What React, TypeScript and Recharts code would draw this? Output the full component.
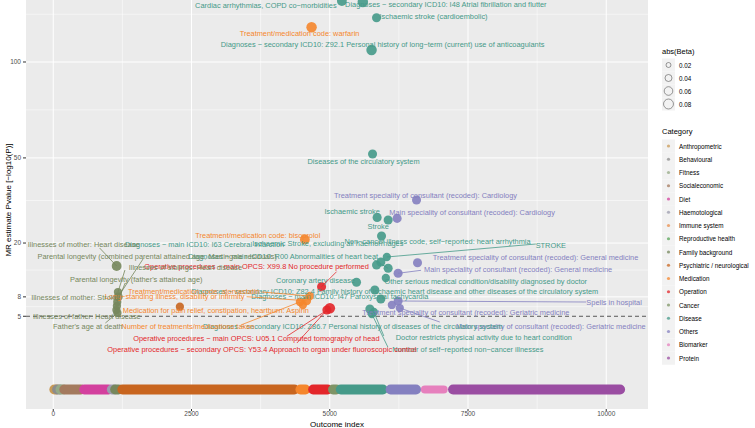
import React from "react";
import {
  ScatterChart,
  Scatter,
  XAxis,
  YAxis,
  CartesianGrid,
  ReferenceLine,
} from "recharts";

const FONT = "'Liberation Sans', Arial, Helvetica, sans-serif";

const categories = [
  "Anthropometric",
  "Behavioural",
  "Fitness",
  "Socialeconomic",
  "Diet",
  "Haemotological",
  "Immune system",
  "Reproductive health",
  "Family background",
  "Psychiatric / neurological",
  "Medication",
  "Operation",
  "Cancer",
  "Disease",
  "Others",
  "Biomarker",
  "Protein",
];

const categoryColors: Record<string, string> = {
  Anthropometric: "#C99A55",
  Behavioural: "#8C8C8C",
  Fitness: "#96AA86",
  Socialeconomic: "#A47A5E",
  Diet: "#D3409E",
  Haemotological: "#9C9CAE",
  "Immune system": "#E98F4C",
  "Reproductive health": "#5AA65A",
  "Family background": "#76875C",
  "Psychiatric / neurological": "#C8651F",
  Medication: "#F5862C",
  Operation: "#E3262A",
  Cancer: "#7E9466",
  Disease: "#459A89",
  Others: "#8480C0",
  Biomarker: "#E680BD",
  Protein: "#9A4DA2",
};

// the non-significant outcomes, drawn as blocks along the index axis
const stripCategory = [
  "Anthropometric", "Behavioural", "Fitness", "Socialeconomic", "Diet",
  "Haemotological", "Family background", "Psychiatric / neurological",
  "Medication", "Operation", "Cancer", "Disease", "Others", "Biomarker", "Protein",
];
const stripFrom = [20, 70, 130, 200, 560, 1060, 1120, 1250, 4470, 4700, 5060, 5200, 6100, 6720, 7230];
const stripTo = [60, 120, 180, 500, 1000, 1100, 1180, 4360, 4560, 4960, 5120, 5960, 6560, 7060, 10250];

// labelled outcomes
const hitNames = [
  "Cardiac arrhythmias, COPD co−morbidities",
  "Diagnoses − secondary ICD10: I48 Atrial fibrillation and flutter",
  "Ischaemic stroke (cardioembolic)",
  "Treatment/medication code: warfarin",
  "Diagnoses − secondary ICD10: Z92.1 Personal history of long−term (current) use of anticoagulants",
  "Diseases of the circulatory system",
  "Treatment speciality of consultant (recoded): Cardiology",
  "Ischaemic stroke",
  "Main speciality of consultant (recoded): Cardiology",
  "Stroke",
  "Non−cancer illness code, self−reported: heart arrhythmia",
  "Treatment/medication code: bisoprolol",
  "STROKE",
  "Diagnoses − main ICD10: I63 Cerebral infarction",
  "Ischaemic Stroke, excluding all haemorrhages",
  "Diagnoses − main ICD10: R00 Abnormalities of heart beat",
  "Treatment speciality of consultant (recoded): General medicine",
  "Main speciality of consultant (recoded): General medicine",
  "Other serious medical condition/disability diagnosed by doctor",
  "Coronary artery disease",
  "Diagnoses − secondary ICD10: Z82.4 Family history of ischaemic heart disease and other diseases of the circulatory system",
  "Diagnoses − main ICD10: I47 Paroxysmal tachycardia",
  "Spells in hospital",
  "Treatment speciality of consultant (recoded): Geriatric medicine",
  "Main speciality of consultant (recoded): Geriatric medicine",
  "Diagnoses − secondary ICD10: Z86.7 Personal history of diseases of the circulatory system",
  "Doctor restricts physical activity due to heart condition",
  "Number of self−reported non−cancer illnesses",
  "Operative procedures − main OPCS: X99.8 No procedure performed",
  "Operative procedures − main OPCS: U05.1 Computed tomography of head",
  "Operative procedures − secondary OPCS: Y53.4 Approach to organ under fluoroscopic control",
  "Long−standing illness, disability or infirmity",
  "Medication for pain relief, constipation, heartburn: Aspirin",
  "Number of treatments/medications taken",
  "Treatment/medication code: atorvastatin",
  "Illnesses of mother: Heart disease",
  "Parental longevity (combined parental attained age, Martingale residuals)",
  "Parental longevity (father's attained age)",
  "Illnesses of mother: Stroke",
  "Illnesses of father: Heart disease",
  "Father's age at death",
  "Illnesses of siblings: Heart disease",
  "",
];
const hitCategory = [
  "Disease", "Disease", "Disease", "Medication", "Disease", "Disease", "Others",
  "Disease", "Others", "Disease", "Disease", "Medication", "Disease", "Disease",
  "Disease", "Disease", "Others", "Others", "Disease", "Disease", "Disease",
  "Disease", "Others", "Others", "Others", "Disease", "Disease", "Disease",
  "Operation", "Operation", "Operation", "Medication", "Medication", "Medication",
  "Medication", "Family background", "Family background", "Family background",
  "Family background", "Family background", "Family background", "Family background",
  "Psychiatric / neurological",
];
const hitIndex = [
  5219, 5598, 5846, 4671, 5756, 5774, 6569, 5857, 6218, 6056, 5936, 4550, 6032,
  5846, 5924, 6056, 6587, 6236, 6014, 5484, 5815, 5924, 6236, 6123, 6267, 5725,
  5797, 5761, 4852, 5002, 4948, 4581, 4514, 4460, 4640, 1146, 1175, 1157, 1151,
  1142, 1160, 1170, 2290,
];
const hitLogP = [
  140.7, 140.0, 128.9, 122.3, 107.5, 51.7, 33.5, 27.6, 27.3, 26.8, 21.97, 21.0, 16.37,
  14.45, 15.16, 13.7, 14.99, 12.59, 11.59, 10.71, 9.23, 7.64, 7.3, 6.66, 6.19, 6.04,
  5.6, 5.31, 9.85, 6.15, 5.89, 7.35, 6.66, 7.14, 8.15, 14.22, 8.03, 7.14, 6.5,
  5.89, 5.46, 8.86, 6.39,
];
const hitBeta = [
  0.07, 0.08, 0.06, 0.08, 0.08, 0.06, 0.06, 0.06, 0.06, 0.06, 0.06, 0.07, 0.05,
  0.06, 0.06, 0.06, 0.06, 0.06, 0.05, 0.06, 0.06, 0.06, 0.06, 0.05, 0.05, 0.06,
  0.05, 0.05, 0.06, 0.08, 0.06, 0.06, 0.05, 0.05, 0.05, 0.07, 0.06, 0.05, 0.05,
  0.05, 0.05, 0.05, 0.05,
];

// ggrepel style placement: label centre offset from the point, optional segment end
const labelLayout: Record<string, number[]> = {
  [hitNames[0]]: [-76, 4],
  [hitNames[1]]: [83, 3],
  [hitNames[2]]: [57, -1],
  [hitNames[3]]: [-12, 6],
  [hitNames[4]]: [11, -5],
  [hitNames[5]]: [-9, 7],
  [hitNames[6]]: [9, -4],
  [hitNames[7]]: [-25, -6],
  [hitNames[8]]: [75, -6],
  [hitNames[9]]: [-10, 7],
  [hitNames[10]]: [56, 5.5],
  [hitNames[11]]: [-47, -4],
  [hitNames[12]]: [164, -11, 149, -13],
  [hitNames[13]]: [-172, -21],
  [hitNames[14]]: [-53, -18],
  [hitNames[15]]: [-105, -12, -15, -9],
  [hitNames[16]]: [118, -5],
  [hitNames[17]]: [120, -4, 23, -3],
  [hitNames[18]]: [100, 3],
  [hitNames[19]]: [-41, -2],
  [hitNames[20]]: [20, 1],
  [hitNames[21]]: [-41, -2],
  [hitNames[22]]: [216, 1, 188, 1],
  [hitNames[23]]: [74, 8],
  [hitNames[24]]: [151, 18, 40, 14],
  [hitNames[25]]: [-17, 17],
  [hitNames[26]]: [110, 26, 10, 24],
  [hitNames[27]]: [96, 35, 16, 33],
  [hitNames[28]]: [-65, -20, 15, -15],
  [hitNames[29]]: [-73.5, 30, -43, 28],
  [hitNames[30]]: [-65, 39, -30, 33],
  [hitNames[31]]: [-132, -4, -60, -4],
  [hitNames[32]]: [-87, 6],
  [hitNames[33]]: [-112, 25, -59, 23],
  [hitNames[34]]: [-116, -5, -48, -4],
  [hitNames[35]]: [-33, -22, -17, -18],
  [hitNames[36]]: [39, -40, 25, -38],
  [hitNames[37]]: [19, -22, 8, -19],
  [hitNames[38]]: [-42, -9],
  [hitNames[39]]: [-29.5, 6],
  [hitNames[40]]: [-29.5, 14, -12, 10],
  [hitNames[41]]: [67.5, -25, 7, -22],
};

const xTicks = [0, 2500, 5000, 7500, 10000];
const xMinor = [1250, 3750, 6250, 8750];
const yTicks = [5, 8, 20, 50, 100];
const yMinor = [3.76, 6.4, 13.3, 33.3, 72.9, 131.3];
const betaKeys = [0.02, 0.04, 0.06, 0.08];
const threshold = 5;

const hits = hitNames.map((name, i) => ({
  name,
  category: hitCategory[i],
  x: hitIndex[i],
  y: hitLogP[i],
  beta: hitBeta[i],
}));

const radius = (beta: number) => 18.5 * Math.sqrt(beta);

const HitDot = (props: any) => {
  const { cx, cy, payload } = props;
  if (cx == null || cy == null) return null;
  return (
    <circle
      cx={cx}
      cy={cy}
      r={radius(payload.beta)}
      fill={categoryColors[payload.category]}
      fillOpacity={0.9}
    />
  );
};

const HitLabel = (props: any) => {
  const { cx, cy, payload } = props;
  const lay = labelLayout[payload.name];
  if (cx == null || !lay || !payload.name) return null;
  const col = categoryColors[payload.category];
  return (
    <g>
      {lay.length > 2 && (
        <line
          x1={cx}
          y1={cy}
          x2={cx + lay[2]}
          y2={cy + lay[3]}
          stroke={col}
          strokeWidth={0.8}
        />
      )}
      <text
        x={cx + lay[0]}
        y={cy + lay[1]}
        textAnchor="middle"
        dominantBaseline="central"
        fontSize={7.4}
        fontFamily={FONT}
        fill={col}
      >
        {payload.name}
      </text>
    </g>
  );
};

export default function App() {
  return (
    <div
      style={{
        position: "absolute",
        left: 0,
        top: 0,
        width: 755,
        height: 428,
        overflow: "hidden",
        background: "#fff",
      }}
    >
      <div style={{ position: "absolute", left: 0, top: -12 }}>
        <ScatterChart
          width={755}
          height={440}
          margin={{ top: 2, right: 107, bottom: 0, left: 0 }}
        >
          <CartesianGrid
            fill="#EBEBEB"
            stroke="#FFFFFF"
            strokeWidth={0.5}
            horizontalValues={yMinor}
            verticalValues={xMinor}
          />
          <CartesianGrid
            stroke="#FFFFFF"
            strokeWidth={1}
            horizontalValues={yTicks}
            verticalValues={xTicks}
          />
          <XAxis
            type="number"
            dataKey="x"
            domain={[-493, 10755]}
            ticks={xTicks}
            allowDataOverflow
            height={19}
            axisLine={false}
            tickSize={2}
            tickMargin={0}
            tickLine={{ stroke: "#333" }}
            tick={{ fontSize: 6.5, fill: "#4D4D4D", fontFamily: FONT }}
          />
          <YAxis
            type="number"
            dataKey="y"
            scale="sqrt"
            domain={[0, 148.8]}
            ticks={yTicks}
            allowDataOverflow
            padding={{ top: 0, bottom: 19.5 }}
            width={26}
            axisLine={false}
            tickSize={3}
            tickMargin={2}
            tickLine={{ stroke: "#333" }}
            tick={{ fontSize: 6.5, fill: "#4D4D4D", fontFamily: FONT }}
          />
          {stripCategory.map((c, i) => (
            <ReferenceLine
              key={"s" + i}
              segment={[
                { x: stripFrom[i], y: 0 },
                { x: stripTo[i], y: 0 },
              ]}
              stroke={categoryColors[c]}
              strokeWidth={c === "Biomarker" ? 8 : 10}
              strokeLinecap="round"
              ifOverflow="visible"
            />
          ))}
          <ReferenceLine
            y={threshold}
            stroke="#333"
            strokeWidth={0.8}
            strokeDasharray="4 3"
          />
          <Scatter
            data={hits}
            shape={HitDot}
            isAnimationActive={false}
          />
          <Scatter
            data={hits}
            shape={HitLabel}
            isAnimationActive={false}
          />
        </ScatterChart>
      </div>
      <svg
        width={755}
        height={428}
        style={{ position: "absolute", left: 0, top: 0, pointerEvents: "none" }}
        fontFamily={FONT}
      >
        <text x={337} y={424} textAnchor="middle" dominantBaseline="central" fontSize={8} fill="#000">
          Outcome index
        </text>
        <text
          x={8}
          y={200}
          textAnchor="middle"
          dominantBaseline="central"
          fontSize={8}
          fill="#000"
          transform="rotate(-90 8 200)"
        >
          MR estimate Pvalue [−log10(P)]
        </text>
        <text x={662} y={51} dominantBaseline="central" fontSize={7.5} fill="#000">
          abs(Beta)
        </text>
        {betaKeys.map((b, i) => (
          <g key={"b" + i}>
            <rect x={662} y={58.5 + i * 13} width={13} height={13} fill="#F2F2F2" />
            <circle cx={668.5} cy={65 + i * 13} r={radius(b) * 0.95} fill="none" stroke="#555" strokeWidth={0.6} />
            <text x={679} y={65 + i * 13} dominantBaseline="central" fontSize={6.3} fill="#000">
              {b.toFixed(2)}
            </text>
          </g>
        ))}
        <text x={662} y={131.5} dominantBaseline="central" fontSize={7.5} fill="#000">
          Category
        </text>
        {categories.map((c, i) => (
          <g key={"c" + i}>
            <rect x={662} y={139.5 + i * 13.25} width={13} height={13.25} fill="#F2F2F2" />
            <circle cx={668.5} cy={146 + i * 13.25} r={1.6} fill={categoryColors[c]} fillOpacity={0.75} />
            <text x={679} y={146 + i * 13.25} dominantBaseline="central" fontSize={6.3} fill="#000">
              {c}
            </text>
          </g>
        ))}
      </svg>
    </div>
  );
}
